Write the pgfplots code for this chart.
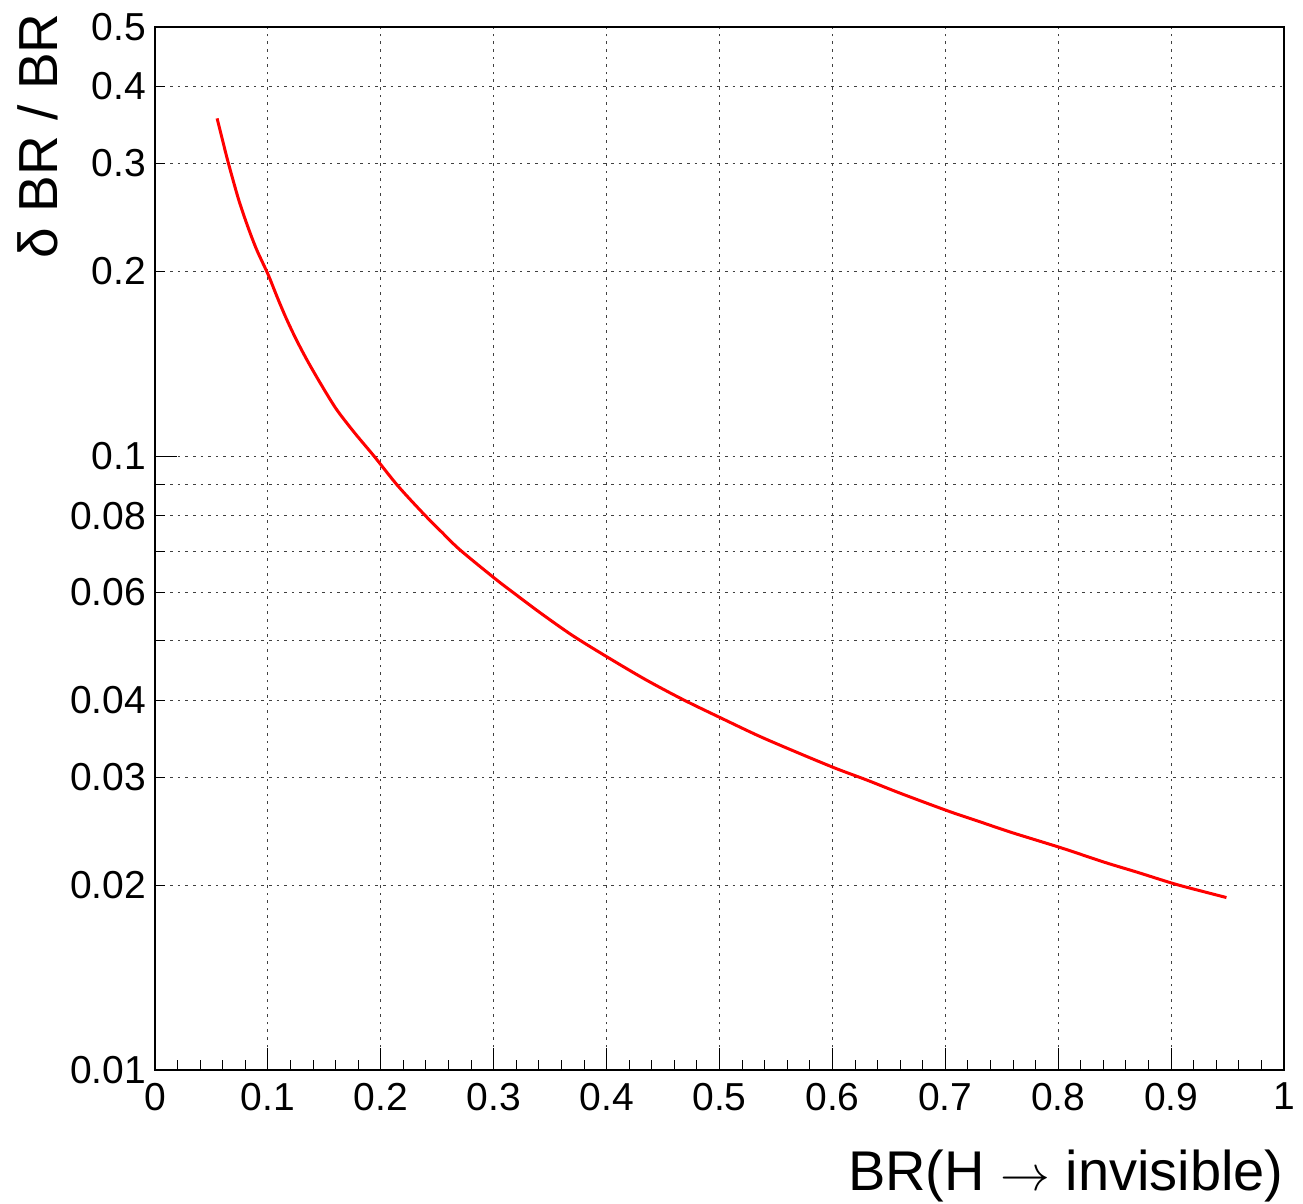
\documentclass[border=0pt]{standalone}
\usepackage{pgfplots}
\pgfplotsset{compat=1.18}
\usepackage{fontspec}
\setmainfont{Liberation Sans}
\begin{document}
\begin{tikzpicture}
\begin{axis}[
  width=564.5pt, height=521.5pt, scale only axis,
  xmin=0, xmax=1, ymin=0.01, ymax=0.5, ymode=log,
  clip=false,
  axis line style={line width=0.8pt},
  tick pos=left, tick align=inside,
  xtick={0,0.1,0.2,0.3,0.4,0.5,0.6,0.7,0.8,0.9,1},
  xticklabels={0,0.1,0.2,0.3,0.4,0.5,0.6,0.7,0.8,0.9,1},
  minor x tick num=4,
  ytick={0.01,0.1}, yticklabels={0.01,0.1},
  minor ytick={0.02,0.03,0.04,0.05,0.06,0.07,0.08,0.09,0.2,0.3,0.4},
  extra y ticks={0.02,0.03,0.04,0.06,0.08,0.2,0.3,0.4,0.5},
  extra y tick labels={0.02,0.03,0.04,0.06,0.08,0.2,0.3,0.4,0.5},
  extra y tick style={grid=none, tick style={draw=none}},
  xmajorgrids, ymajorgrids, yminorgrids,
  grid style={black!75, line width=0.5pt, dash pattern=on 1.3pt off 2.5pt},
  major tick length=11pt, minor tick length=5pt,
  tick style={black, line width=0.5pt},
  ticklabel style={font=\fontsize{19.5}{23}\selectfont},
  xticklabel style={yshift=-3pt},
  yticklabel style={xshift=-1pt},
  xlabel={BR(H $\rightarrow$ invisible)},
  ylabel={δ BR / BR},
  xlabel style={at={(axis description cs:1,0)}, anchor=base east, inner sep=0pt, yshift=-60pt, font=\fontsize{28}{33}\selectfont},
  ylabel style={at={(axis description cs:-0.0868,1.0134)}, anchor=base east, inner sep=0pt, font=\fontsize{27.5}{32}\selectfont},
]
\addplot[red, line width=1.5pt, smooth, tension=0.5] coordinates {
(0.055,0.355) (0.060,0.326) (0.065,0.300) (0.074,0.262) (0.082,0.237) (0.090,0.217)
(0.100,0.198) (0.108,0.182) (0.116,0.168) (0.125,0.155) (0.135,0.143) (0.148,0.130)
(0.161,0.119) (0.177,0.109) (0.194,0.100) (0.215,0.0895) (0.238,0.0805) (0.254,0.0752)
(0.270,0.0704) (0.301,0.0632) (0.317,0.0600) (0.341,0.0556) (0.370,0.0510)
(0.402,0.0469) (0.435,0.0432) (0.468,0.0401) (0.502,0.0374) (0.535,0.0350)
(0.569,0.0329) (0.603,0.0310) (0.630,0.0297) (0.661,0.0282) (0.703,0.0264)
(0.730,0.0254) (0.758,0.0244) (0.803,0.0230) (0.841,0.0218) (0.870,0.0210)
(0.903,0.0201) (0.930,0.0195) (0.949,0.0191)
};
\path (axis description cs:-0.1373,-0.1275) (axis description cs:1.0168,1.0259);
\end{axis}
\end{tikzpicture}
\end{document}
